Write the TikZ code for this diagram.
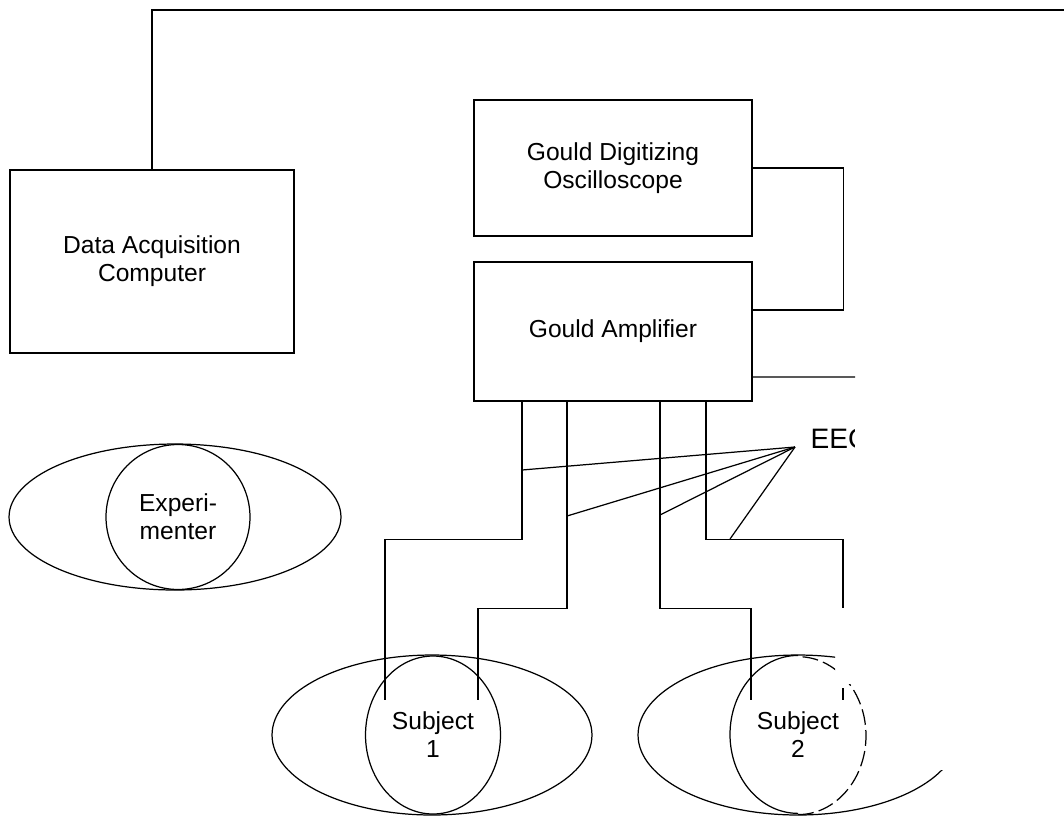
\documentclass[tikz,border=0pt]{standalone}
\usepackage{fontspec}
\setmainfont{Liberation Sans}
\usetikzlibrary{shapes.geometric}

\tikzset{
  box/.style={draw, rectangle, align=center, inner sep=0pt},
  body/.style={draw, ellipse, inner sep=0pt},
  head/.style={draw, ellipse, inner sep=0pt, align=center},
}

\begin{document}
\begin{tikzpicture}[x=0.02cm, y=-0.02cm, line width=0.7pt,
  font=\fontsize{14}{16}\selectfont]
\useasboundingbox (0,0) rectangle (1064,816);

% equipment
\node[box, minimum width=5.68cm, minimum height=3.66cm] (daq) at (152,261.5) {Data Acquisition\\Computer};
\node[box, minimum width=5.56cm, minimum height=2.72cm] (osc) at (613,168) {Gould Digitizing\\Oscilloscope};
\node[box, minimum width=5.56cm, minimum height=2.78cm] (amp) at (613,331.5) {Gould Amplifier};

% people
\node[body, minimum width=6.64cm, minimum height=2.92cm] (expbody) at (175,517) {};
\node[head, minimum width=2.88cm, minimum height=2.9cm] (exphead) at (178,517) {Experi-\\menter};
\node[body, minimum width=6.4cm, minimum height=3.2cm] (s1body) at (432,735) {};
\node[head, minimum width=2.7cm, minimum height=3.16cm] (s1head) at (433,735) {Subject\\1};
\node[head, draw=none, minimum width=2.72cm, minimum height=3.16cm] (s2head) at (798,735) {Subject\\2};
\begin{scope}
  \clip (600,640) -- (835,640) -- (835,684) -- (870,684) -- (870,770)
    -- (1000,770) -- (1000,816) -- (600,816) -- cycle;
  \node[body, minimum width=6.4cm, minimum height=3.2cm] (s2body) at (798,735) {};
  \draw (s2head.north) arc[start angle=90, end angle=270, x radius=1.36cm, y radius=1.58cm];
  \draw[dash pattern=on 9pt off 3pt] (s2head.south) arc[start angle=-90, end angle=90, x radius=1.36cm, y radius=1.58cm];
\end{scope}

% lead ends and tap points
\coordinate (edge) at (1064,10);
\coordinate (ampout) at (855,377);
\coordinate (s1a) at (385,700);
\coordinate (s1b) at (478,700);
\coordinate (s2a) at (751,700);
\coordinate (s2gap) at (843,608);
\coordinate (s2lead) at (843,688);
\coordinate (s2b) at (843,700);
\coordinate (eegtip) at (795,447);
\coordinate (tap1) at (522,470);
\coordinate (tap2) at (567,516);
\coordinate (tap3) at (660,515);
\coordinate (tap4) at (730,539);

% cables
\draw (daq.north) |- (edge);
\draw (osc.east) -- ++(91,0) |- ([yshift=0.43cm]amp.east);
\draw ([yshift=-0.91cm]amp.east) -- (ampout);

% electrode leads
\draw ([xshift=-1.82cm]amp.south) -- ++(0,138) -| (s1a);
\draw ([xshift=-0.92cm]amp.south) -- ++(0,207) -| (s1b);
\draw ([xshift=0.94cm]amp.south) -- ++(0,207) -| (s2a);
\draw ([xshift=1.86cm]amp.south) -- ++(0,138) -| (s2gap);
\draw (s2lead) -- (s2b);

\foreach \t in {tap1,tap2,tap3,tap4}
  \draw (eegtip) -- (\t);
\begin{scope}
  \clip (790,400) rectangle (854,470);
  \node[anchor=base west, inner sep=0pt, font=\fontsize{16}{18}\selectfont] (eeg) at (810,448) {EEG};
\end{scope}
\end{tikzpicture}
\end{document}
